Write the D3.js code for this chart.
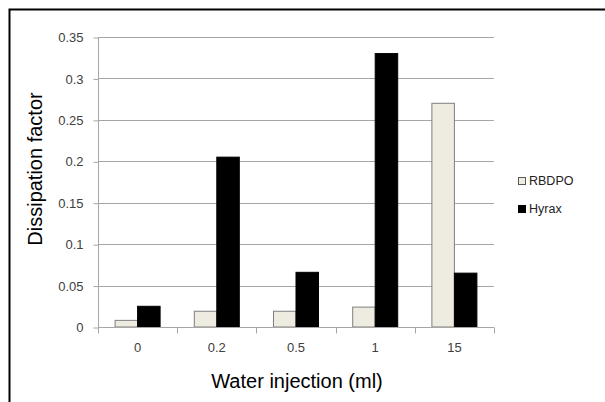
<!DOCTYPE html>
<html>
<head>
<meta charset="UTF-8" />
<title>Dissipation factor</title>
<script src="https://d3js.org/d3.v7.min.js"></script>
<style>
  body { margin: 0; background: #fff; }
  svg { display: block; }
</style>
</head>
<body>
<script>
// data
var categories = ["0", "0.2", "0.5", "1", "15"];
var seriesNames = ["RBDPO", "Hyrax"];
var rbdpo = [0.008, 0.019, 0.019, 0.024, 0.27];
var hyrax = [0.025, 0.205, 0.066, 0.33, 0.065];
var yTicks = [0, 0.05, 0.1, 0.15, 0.2, 0.25, 0.3, 0.35];
var colors = ["#eeece1", "#000000"];

var W = 605, H = 402;
var plot = { left: 98, right: 494, top: 37, bottom: 327 };

var svg = d3.select("body").append("svg")
  .attr("width", W).attr("height", H);

// outer frame (runs past the right and bottom edges)
svg.append("rect")
  .attr("x", 9.5).attr("y", 9.5)
  .attr("width", 640).attr("height", 440)
  .attr("fill", "none").attr("stroke", "#000").attr("stroke-width", 2);

var x = d3.scaleBand().domain(categories)
  .range([plot.left, plot.right]).paddingInner(0).paddingOuter(0);
var xs = d3.scaleBand().domain(seriesNames)
  .range([0, x.bandwidth()]).paddingInner(0).paddingOuter(0.76);
var y = d3.scaleLinear().domain([0, 0.35]).range([plot.bottom, plot.top]);

var font = "Liberation Sans, Arial, sans-serif";

// gridlines
svg.append("g").selectAll("line").data(yTicks.slice(1)).join("line")
  .attr("x1", plot.left).attr("x2", plot.right)
  .attr("y1", function(d) { return Math.round(y(d)) + 0.5; })
  .attr("y2", function(d) { return Math.round(y(d)) + 0.5; })
  .attr("stroke", "#a6a6a6").attr("stroke-width", 1);

// y axis
var yAxis = svg.append("g")
  .attr("transform", "translate(" + (plot.left + 0.5) + ",0.5)")
  .call(d3.axisLeft(y).tickValues(yTicks).tickSize(5).tickPadding(10)
    .tickFormat(function(d) { return String(+d.toFixed(2)); }));
yAxis.selectAll("path, line").attr("stroke", "#a6a6a6");
yAxis.select(".domain").attr("d", "M0," + plot.top + "V" + plot.bottom);
yAxis.selectAll("text").attr("font-family", font).attr("font-size", 13).attr("fill", "#404040");

// bars
var rows = categories.map(function(c, i) { return { cat: c, vals: [rbdpo[i], hyrax[i]] }; });
var groups = svg.append("g").selectAll("g").data(rows).join("g")
  .attr("transform", function(d) { return "translate(" + x(d.cat) + ",0)"; });
groups.selectAll("rect").data(function(d) {
    return d.vals.map(function(v, j) { return { name: seriesNames[j], v: v, j: j }; });
  }).join("rect")
  .attr("x", function(d) { return xs(d.name); })
  .attr("width", xs.bandwidth())
  .attr("y", function(d) { return y(d.v); })
  .attr("height", function(d) { return y(0) - y(d.v); })
  .attr("fill", function(d) { return colors[d.j]; })
  .attr("stroke", function(d) { return d.j === 0 ? "#7f7f7f" : "#000"; })
  .attr("stroke-width", 1);

// x axis
var xAxis = svg.append("g")
  .attr("transform", "translate(0," + (plot.bottom + 0.5) + ")")
  .call(d3.axisBottom(x).tickSize(0).tickPadding(15));
xAxis.select(".domain").attr("stroke", "#a6a6a6").attr("d", "M" + plot.left + ",0H" + plot.right);
xAxis.selectAll("text").attr("font-family", font).attr("font-size", 13).attr("fill", "#404040");
var bounds = categories.map(function(c) { return x(c); }).concat([plot.right]);
xAxis.selectAll(".sep").data(bounds).join("line").attr("class", "sep")
  .attr("x1", function(d) { return Math.round(d) + 0.5; })
  .attr("x2", function(d) { return Math.round(d) + 0.5; })
  .attr("y1", 0).attr("y2", 6)
  .attr("stroke", "#a6a6a6");

// axis titles
svg.append("text")
  .attr("x", 297).attr("y", 388)
  .attr("text-anchor", "middle")
  .attr("font-family", font).attr("font-size", 20)
  .text("Water injection (ml)");
svg.append("text")
  .attr("transform", "translate(42,169) rotate(-90)")
  .attr("text-anchor", "middle")
  .attr("font-family", font).attr("font-size", 20)
  .text("Dissipation factor");

// legend
var legend = svg.append("g").selectAll("g").data(seriesNames).join("g")
  .attr("transform", function(d, i) { return "translate(518," + (177 + i * 28) + ")"; });
legend.append("rect")
  .attr("x", 0.5).attr("y", 0.5).attr("width", 7).attr("height", 7)
  .attr("fill", function(d, i) { return colors[i]; })
  .attr("stroke", function(d, i) { return i === 0 ? "#595959" : "#000"; });
legend.append("text")
  .attr("x", 11).attr("y", 8)
  .attr("font-family", font).attr("font-size", 12.5).attr("fill", "#222")
  .text(function(d) { return d; });
</script>
</body>
</html>
